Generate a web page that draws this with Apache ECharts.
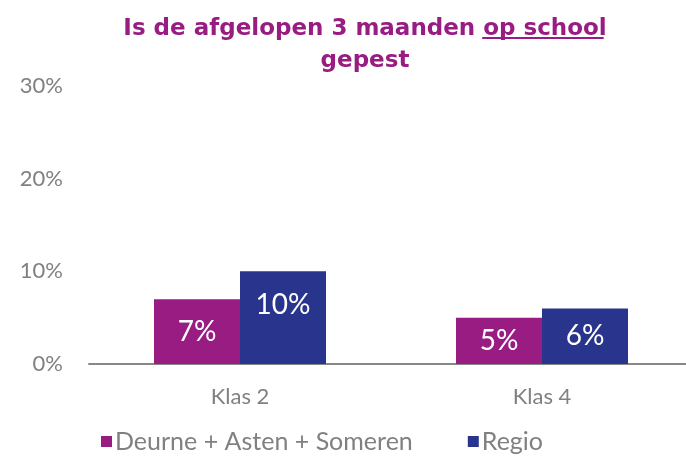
<!DOCTYPE html>
<html>
<head>
<meta charset="utf-8">
<script src="https://cdn.jsdelivr.net/npm/echarts@6/dist/echarts.min.js"></script>
<style>
  html, body { margin: 0; padding: 0; background: #fff; }
  #chart { width: 686px; height: 461px; }
</style>
</head>
<body>
<div id="chart"></div>
<script>
var categories = ['Klas 2', 'Klas 4'];
var seriesNames = ['Deurne + Asten + Someren', 'Regio'];
var deurneValues = [7, 5];
var regioValues = [10, 6];
var yTicks = [0, 10, 20, 30];

var purple = '#981C82';
var navy = '#29358C';
var grey = '#808080';
var fontName = 'Lato, "DejaVu Sans", sans-serif';
var titleFont = '"DejaVu Sans", sans-serif';
var titleSize = 23;
var titleCx = 360, titleTop = 8, titleLh = 32;
var titlePre = 'Is de afgelopen 3 maanden ';
var titleUnder = 'op school';

// measure the title so the underline sits under "op school"
var ctx = document.createElement('canvas').getContext('2d');
ctx.font = 'bold ' + titleSize + 'px ' + titleFont;
var wPre = ctx.measureText(titlePre).width;
var wUnder = ctx.measureText(titleUnder).width;
var lineLeft = titleCx - (wPre + wUnder) / 2;

// labels: centred in short bars, near the top in taller ones
function barData(values) {
    return values.map(function (v) {
        var item = { value: v };
        if (v >= 9) {
            item.label = { position: 'insideTop', distance: 20 };
        }
        return item;
    });
}

var myChart = echarts.init(document.getElementById('chart'));

var titleStyle = { color: purple, fontSize: titleSize, fontWeight: 'bold', fontFamily: titleFont, lineHeight: titleLh };

var option = {
    animation: false,
    title: {
        text: '{a|' + titlePre + titleUnder + '}\n{a|gepest}',
        left: titleCx,
        top: titleTop,
        textAlign: 'center',
        textStyle: { rich: { a: titleStyle } }
    },
    graphic: [{
        type: 'rect',
        shape: { x: 0, y: 0, width: wUnder - 2, height: 2 },
        left: lineLeft + wPre + 4,
        top: titleTop + titleLh / 2 + 13,
        style: { fill: purple }
    }],
    grid: {
        left: 89,
        width: 604,
        top: 86,
        bottom: 97,
        outerBoundsMode: 'none'
    },
    legend: {
        bottom: 2,
        left: 96,
        itemWidth: 11,
        itemHeight: 11,
        itemGap: 55,
        icon: 'rect',
        textStyle: { color: grey, fontSize: 25, fontFamily: fontName, padding: [0, 0, 0, -2] },
        data: seriesNames
    },
    xAxis: {
        type: 'category',
        data: categories,
        axisLine: { lineStyle: { color: '#888888', width: 2 } },
        axisTick: { show: false },
        axisLabel: { color: grey, fontSize: 22, fontFamily: fontName, margin: 22 }
    },
    yAxis: {
        type: 'value',
        min: yTicks[0],
        max: yTicks[yTicks.length - 1],
        interval: 10,
        splitLine: { show: false },
        axisLine: { show: false },
        axisTick: { show: false },
        axisLabel: {
            color: grey, fontSize: 22, fontFamily: fontName, margin: 26,
            formatter: '{value}%'
        }
    },
    series: [{
        name: seriesNames[0],
        type: 'bar',
        data: barData(deurneValues),
        barWidth: 86,
        barGap: '0%',
        itemStyle: { color: purple },
        label: {
            show: true, position: 'inside', color: '#fff', fontSize: 28, fontFamily: fontName,
            formatter: '{c}%'
        }
    }, {
        name: seriesNames[1],
        type: 'bar',
        data: barData(regioValues),
        barWidth: 86,
        barGap: '0%',
        itemStyle: { color: navy },
        label: {
            show: true, position: 'inside', color: '#fff', fontSize: 28, fontFamily: fontName,
            formatter: '{c}%'
        }
    }]
};

myChart.setOption(option);
</script>
</body>
</html>
